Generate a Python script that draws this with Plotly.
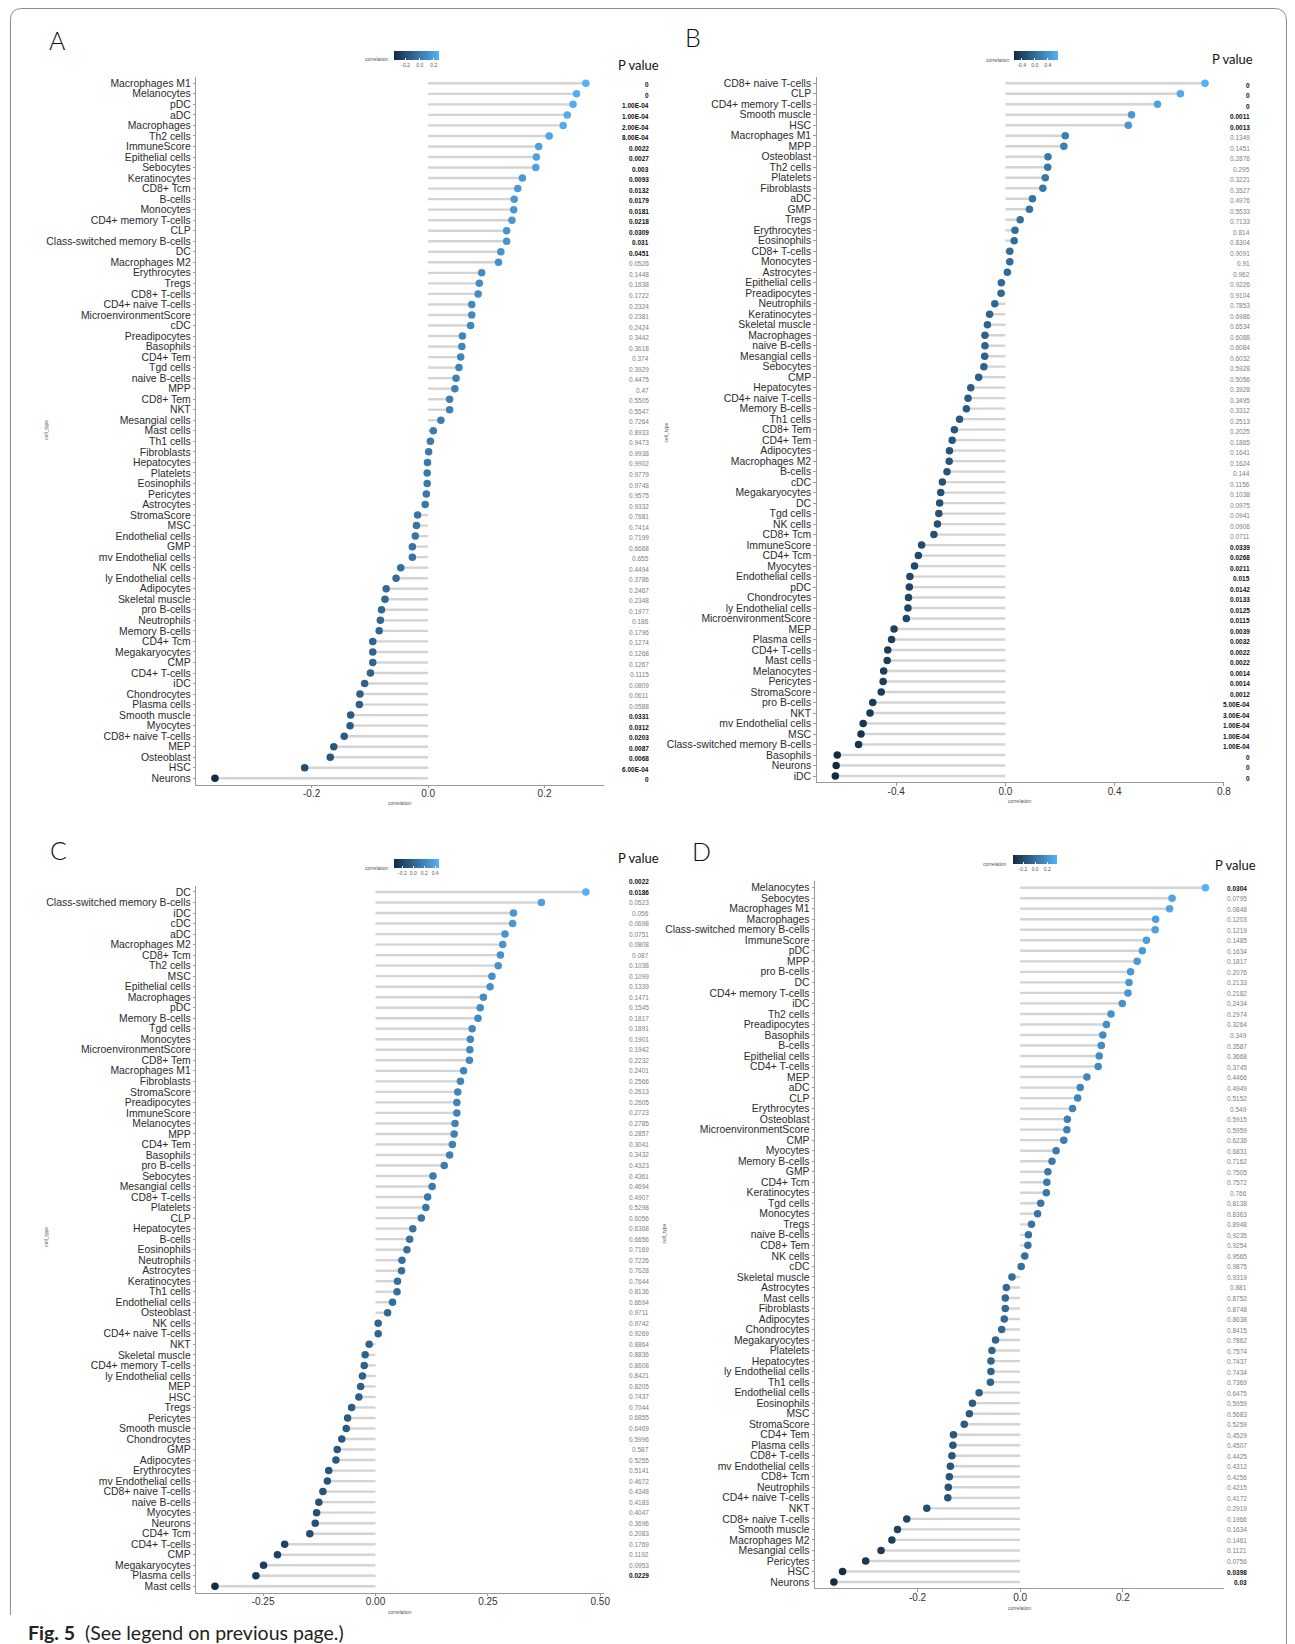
import plotly.graph_objects as go

W, H = 1295, 1644

# ---------------- Panel A ----------------
a_cells = ["Macrophages M1", "Melanocytes", "pDC", "aDC", "Macrophages", "Th2 cells", "ImmuneScore",
           "Epithelial cells", "Sebocytes", "Keratinocytes", "CD8+ Tcm", "B-cells", "Monocytes",
           "CD4+ memory T-cells", "CLP", "Class-switched memory B-cells", "DC", "Macrophages M2",
           "Erythrocytes", "Tregs", "CD8+ T-cells", "CD4+ naive T-cells", "MicroenvironmentScore",
           "cDC", "Preadipocytes", "Basophils", "CD4+ Tem", "Tgd cells", "naive B-cells", "MPP",
           "CD8+ Tem", "NKT", "Mesangial cells", "Mast cells", "Th1 cells", "Fibroblasts",
           "Hepatocytes", "Platelets", "Eosinophils", "Pericytes", "Astrocytes", "StromaScore", "MSC",
           "Endothelial cells", "GMP", "mv Endothelial cells", "NK cells", "ly Endothelial cells",
           "Adipocytes", "Skeletal muscle", "pro B-cells", "Neutrophils", "Memory B-cells", "CD4+ Tcm",
           "Megakaryocytes", "CMP", "CD4+ T-cells", "iDC", "Chondrocytes", "Plasma cells",
           "Smooth muscle", "Myocytes", "CD8+ naive T-cells", "MEP", "Osteoblast", "HSC", "Neurons"]
a_corr = [0.271, 0.255, 0.249, 0.239, 0.232, 0.208, 0.190, 0.186, 0.185, 0.162, 0.154, 0.148, 0.147,
          0.144, 0.135, 0.135, 0.125, 0.121, 0.092, 0.088, 0.086, 0.075, 0.075,
          0.073, 0.059, 0.058, 0.056, 0.053, 0.048, 0.046, 0.037, 0.037, 0.022, 0.009, 0.004, 0.001,
          -0.001, -0.0015, -0.0015, -0.003, -0.005, -0.018, -0.020, -0.022, -0.027, -0.027,
          -0.047, -0.055, -0.072, -0.074, -0.080, -0.082, -0.084, -0.095, -0.095, -0.095, -0.099,
          -0.109, -0.117, -0.118, -0.133, -0.134, -0.144, -0.162, -0.168, -0.212, -0.366]
a_pval = ["0", "0", "1.00E-04", "1.00E-04", "2.00E-04", "8.00E-04", "0.0022", "0.0027", "0.003",
          "0.0093", "0.0132", "0.0179", "0.0181", "0.0218", "0.0309", "0.031", "0.0451", "0.0526",
          "0.1448", "0.1638", "0.1722", "0.2324", "0.2381",
          "0.2424", "0.3442", "0.3618", "0.374", "0.3929", "0.4475", "0.47", "0.5505", "0.5547",
          "0.7264", "0.8933", "0.9473", "0.9938", "0.9902", "0.9779", "0.9748", "0.9575", "0.9332",
          "0.7681", "0.7414", "0.7199", "0.6668", "0.655",
          "0.4494", "0.3786", "0.2467", "0.2348", "0.1977", "0.186", "0.1796", "0.1274", "0.1268",
          "0.1267", "0.1115", "0.0809", "0.0611", "0.0588", "0.0331", "0.0312", "0.0203", "0.0087",
          "0.0068", "6.00E-04", "0"]
a_xticks = [-0.4, -0.2, 0.0, 0.2]
a_xticktext = ["-0.4", "-0.2", "0.0", "0.2"]
a_cbticks = [-0.2, 0.0, 0.2]

# ---------------- Panel B ----------------
b_cells = ["CD8+ naive T-cells", "CLP", "CD4+ memory T-cells", "Smooth muscle", "HSC", "Macrophages M1",
           "MPP", "Osteoblast", "Th2 cells", "Platelets", "Fibroblasts", "aDC", "GMP", "Tregs",
           "Erythrocytes", "Eosinophils", "CD8+ T-cells", "Monocytes", "Astrocytes", "Epithelial cells",
           "Preadipocytes", "Neutrophils", "Keratinocytes",
           "Skeletal muscle", "Macrophages", "naive B-cells", "Mesangial cells", "Sebocytes", "CMP",
           "Hepatocytes", "CD4+ naive T-cells", "Memory B-cells", "Th1 cells", "CD8+ Tem", "CD4+ Tem",
           "Adipocytes", "Macrophages M2", "B-cells", "cDC", "Megakaryocytes", "DC", "Tgd cells",
           "NK cells", "CD8+ Tcm", "ImmuneScore", "CD4+ Tcm",
           "Myocytes", "Endothelial cells", "pDC", "Chondrocytes", "ly Endothelial cells",
           "MicroenvironmentScore", "MEP", "Plasma cells", "CD4+ T-cells", "Mast cells", "Melanocytes",
           "Pericytes", "StromaScore", "pro B-cells", "NKT", "mv Endothelial cells", "MSC",
           "Class-switched memory B-cells", "Basophils", "Neurons", "iDC"]
b_corr = [0.731, 0.641, 0.557, 0.462, 0.450, 0.219, 0.214, 0.156, 0.155, 0.146, 0.137, 0.099, 0.088,
          0.054, 0.035, 0.032, 0.016, 0.016, 0.007, -0.015, -0.016, -0.039, -0.058,
          -0.066, -0.075, -0.075, -0.076, -0.079, -0.098, -0.127, -0.137, -0.143, -0.168, -0.187,
          -0.195, -0.205, -0.206, -0.214, -0.231, -0.237, -0.241, -0.244, -0.249, -0.262, -0.307,
          -0.319,
          -0.333, -0.350, -0.352, -0.355, -0.357, -0.363, -0.408, -0.417, -0.431, -0.433, -0.446,
          -0.448, -0.455, -0.486, -0.496, -0.521, -0.529, -0.538, -0.616, -0.620, -0.623]
b_pval = ["0", "0", "0", "0.0011", "0.0013", "0.1349", "0.1451", "0.2876", "0.295", "0.3221", "0.3527",
          "0.4976", "0.5533", "0.7133", "0.814", "0.8304", "0.9091", "0.91", "0.962", "0.9226",
          "0.9104", "0.7853", "0.6986",
          "0.6534", "0.6088", "0.6084", "0.6032", "0.5928", "0.5056", "0.3928", "0.3495", "0.3312",
          "0.2513", "0.2025", "0.1865", "0.1641", "0.1624", "0.144", "0.1156", "0.1038", "0.0975",
          "0.0941", "0.0906", "0.0711", "0.0339", "0.0268",
          "0.0211", "0.015", "0.0142", "0.0133", "0.0125", "0.0115", "0.0039", "0.0032", "0.0022",
          "0.0022", "0.0014", "0.0014", "0.0012", "5.00E-04", "3.00E-04", "1.00E-04", "1.00E-04",
          "1.00E-04", "0", "0", "0"]
b_xticks = [-0.4, 0.0, 0.4, 0.8]
b_xticktext = ["-0.4", "0.0", "0.4", "0.8"]
b_cbticks = [-0.4, 0.0, 0.4]

# ---------------- Panel C ----------------
c_cells = ["DC", "Class-switched memory B-cells", "iDC", "cDC", "aDC", "Macrophages M2", "CD8+ Tcm",
           "Th2 cells", "MSC", "Epithelial cells", "Macrophages", "pDC", "Memory B-cells", "Tgd cells",
           "Monocytes", "MicroenvironmentScore", "CD8+ Tem", "Macrophages M1", "Fibroblasts",
           "StromaScore", "Preadipocytes",
           "ImmuneScore", "Melanocytes", "MPP", "CD4+ Tem", "Basophils", "pro B-cells", "Sebocytes",
           "Mesangial cells", "CD8+ T-cells", "Platelets", "CLP", "Hepatocytes", "B-cells",
           "Eosinophils", "Neutrophils", "Astrocytes", "Keratinocytes", "Th1 cells",
           "Endothelial cells", "Osteoblast", "NK cells", "CD4+ naive T-cells", "NKT",
           "Skeletal muscle", "CD4+ memory T-cells", "ly Endothelial cells", "MEP", "HSC", "Tregs",
           "Pericytes", "Smooth muscle", "Chondrocytes", "GMP", "Adipocytes", "Erythrocytes",
           "mv Endothelial cells", "CD8+ naive T-cells", "naive B-cells", "Myocytes", "Neurons",
           "CD4+ Tcm", "CD4+ T-cells", "CMP", "Megakaryocytes", "Plasma cells", "Mast cells"]
c_corr = [0.468, 0.369, 0.307, 0.305, 0.288, 0.283, 0.278, 0.273, 0.259, 0.255, 0.240, 0.233, 0.228,
          0.215, 0.211, 0.210, 0.209, 0.196, 0.189, 0.183, 0.181,
          0.181, 0.177, 0.175, 0.171, 0.165, 0.153, 0.128, 0.126, 0.116, 0.112, 0.102, 0.083, 0.076,
          0.070, 0.059, 0.058, 0.049, 0.048, 0.038, 0.027, 0.006, 0.006, -0.014,
          -0.023, -0.025, -0.029, -0.033, -0.037, -0.053, -0.062, -0.065, -0.075, -0.085, -0.088,
          -0.104, -0.107, -0.117, -0.126, -0.131, -0.134, -0.146, -0.202, -0.218, -0.249, -0.266,
          -0.357]
c_pval = ["0.0022", "0.0186", "0.0523", "0.056", "0.0698", "0.0751", "0.0808", "0.087", "0.1038",
          "0.1099", "0.1339", "0.1471", "0.1545", "0.1817", "0.1891", "0.1901", "0.1942", "0.2232",
          "0.2401", "0.2566", "0.2613", "0.2605",
          "0.2723", "0.2785", "0.2857", "0.3041", "0.3432", "0.4323", "0.4361", "0.4694", "0.4907",
          "0.5298", "0.6056", "0.6368", "0.6656", "0.7169", "0.7226", "0.7628", "0.7644", "0.8136",
          "0.8694", "0.9711", "0.9742", "0.9269", "0.8864",
          "0.8836", "0.8608", "0.8421", "0.8205", "0.7437", "0.7044", "0.6855", "0.6469", "0.5996",
          "0.587", "0.5255", "0.5141", "0.4672", "0.4348", "0.4183", "0.4047", "0.3696", "0.2083",
          "0.1769", "0.1192", "0.0953", "0.0229"]
c_xticks = [-0.25, 0.0, 0.25, 0.5]
c_xticktext = ["-0.25", "0.00", "0.25", "0.50"]
c_cbticks = [-0.2, 0.0, 0.2, 0.4]

# ---------------- Panel D ----------------
d_cells = ["Melanocytes", "Sebocytes", "Macrophages M1", "Macrophages", "Class-switched memory B-cells",
           "ImmuneScore", "pDC", "MPP", "pro B-cells", "DC", "CD4+ memory T-cells", "iDC", "Th2 cells",
           "Preadipocytes", "Basophils", "B-cells", "Epithelial cells", "CD4+ T-cells", "MEP", "aDC",
           "CLP",
           "Erythrocytes", "Osteoblast", "MicroenvironmentScore", "CMP", "Myocytes", "Memory B-cells",
           "GMP", "CD4+ Tcm", "Keratinocytes", "Tgd cells", "Monocytes", "Tregs", "naive B-cells",
           "CD8+ Tem", "NK cells", "cDC", "Skeletal muscle", "Astrocytes", "Mast cells", "Fibroblasts",
           "Adipocytes", "Chondrocytes", "Megakaryocytes", "Platelets",
           "Hepatocytes", "ly Endothelial cells", "Th1 cells", "Endothelial cells", "Eosinophils",
           "MSC", "StromaScore", "CD4+ Tem", "Plasma cells", "CD8+ T-cells", "mv Endothelial cells",
           "CD8+ Tcm", "Neutrophils", "CD4+ naive T-cells", "NKT", "CD8+ naive T-cells",
           "Smooth muscle", "Macrophages M2", "Mesangial cells", "Pericytes", "HSC", "Neurons"]
d_corr = [0.361, 0.296, 0.291, 0.264, 0.263, 0.246, 0.238, 0.228, 0.215, 0.212, 0.210, 0.199, 0.177,
          0.168, 0.161, 0.158, 0.154, 0.152, 0.130, 0.117, 0.112,
          0.102, 0.092, 0.091, 0.085, 0.070, 0.062, 0.054, 0.052, 0.051, 0.040, 0.034, 0.022, 0.016,
          0.015, 0.009, 0.002, -0.016, -0.027, -0.029, -0.029, -0.031, -0.036, -0.048, -0.055,
          -0.057, -0.057, -0.058, -0.080, -0.093, -0.099, -0.109, -0.130, -0.131, -0.133, -0.136,
          -0.138, -0.140, -0.141, -0.182, -0.221, -0.239, -0.250, -0.271, -0.301, -0.346, -0.363]
d_pval = ["0.0304", "0.0795", "0.0848", "0.1203", "0.1219", "0.1485", "0.1634", "0.1817", "0.2076",
          "0.2133", "0.2182", "0.2434", "0.2974", "0.3264", "0.349", "0.3587", "0.3668", "0.3745",
          "0.4466", "0.4949", "0.5152",
          "0.549", "0.5915", "0.5959", "0.6236", "0.6831", "0.7162", "0.7505", "0.7572", "0.766",
          "0.8138", "0.8363", "0.8948", "0.9235", "0.9254", "0.9565", "0.9875", "0.9319", "0.881",
          "0.8752", "0.8748", "0.8638", "0.8415", "0.7862", "0.7574",
          "0.7437", "0.7434", "0.7369", "0.6475", "0.5959", "0.5683", "0.5259", "0.4529", "0.4507",
          "0.4425", "0.4312", "0.4256", "0.4215", "0.4172", "0.2919", "0.1966", "0.1634", "0.1461",
          "0.1121", "0.0756", "0.0398", "0.03"]
d_xticks = [-0.2, 0.0, 0.2]
d_xticktext = ["-0.2", "0.0", "0.2"]
d_cbticks = [-0.2, 0.0, 0.2]

# ---------------- styling ----------------
SANS = "Liberation Sans, Arial, sans-serif"
HEAD = "Lato, Open Sans, sans-serif"
GRADIENT = [[0.0, "#132B43"], [1.0, "#56B1F7"]]
AXIS_GREY = "#9a9a9a"


def px(x):
    return x / W


def py(y):
    return 1 - y / H


# pixel placement of every panel on the page
panels = [
    dict(letter="A", cells=a_cells, corr=a_corr, pval=a_pval, xt=a_xticks, xtt=a_xticktext,
         cbt=a_cbticks, left=197.5, right=607.7, first=83.3, last=778.3,
         letter_xy=(58, 40), cb=(396, 50.7, 44.5), cbt_title=(393, 59),
         phead=(642, 65), pright=654.7, poff=0.15, ctitle_y=803, celltype=(46, 430)),
    dict(letter="B", cells=b_cells, corr=b_corr, pval=b_pval, xt=b_xticks, xtt=b_xticktext,
         cbt=b_cbticks, left=821.3, right=1230.7, first=83.3, last=776.0,
         letter_xy=(697, 37), cb=(1020, 51, 43.5), cbt_title=(1017, 59.5),
         phead=(1239, 59), pright=1258.4, poff=0.2, ctitle_y=801, celltype=(670, 432)),
    dict(letter="C", cells=c_cells, corr=c_corr, pval=c_pval, xt=c_xticks, xtt=c_xticktext,
         cbt=c_cbticks, left=197.5, right=607.7, first=892.0, last=1586.3,
         letter_xy=(59, 850), cb=(396, 859.3, 44.5), cbt_title=(392.7, 868),
         phead=(642, 858), pright=654.7, poff=-1.0, ctitle_y=1611.5, celltype=(46, 1237)),
    dict(letter="D", cells=d_cells, corr=d_corr, pval=d_pval, xt=d_xticks, xtt=d_xticktext,
         cbt=d_cbticks, left=819.7, right=1230.7, first=887.7, last=1582.0,
         letter_xy=(705, 851), cb=(1018.6, 855, 44.2), cbt_title=(1014.5, 863.5),
         phead=(1242, 865), pright=1256, poff=0.05, ctitle_y=1607.5, celltype=(668, 1233)),
]

fig = go.Figure()
annotations = []
layout_axes = {}

for k, p in enumerate(panels, start=1):
    sfx = "" if k == 1 else str(k)
    xa, ya, ca = "x" + sfx, "y" + sfx, "coloraxis" + sfx
    n = len(p["cells"])
    rows = list(range(n))
    vals = p["corr"]
    lo, hi = min(vals), max(vals)
    span = hi - lo
    xlo, xhi = lo - 0.05 * span, hi + 0.05 * span
    xhi = max(xhi, max(p["xt"]) + 0.0008)

    spacing = (p["last"] - p["first"]) / (n - 1)
    top_px = p["first"] - 0.6 * spacing
    bot_px = p["last"] + 0.6 * spacing

    # lollipop stems from zero to each correlation
    sx, sy = [], []
    for r, v in zip(rows, vals):
        sx += [0, v, None]
        sy += [r, r, None]
    fig.add_trace(go.Scatter(x=sx, y=sy, mode="lines", xaxis=xa, yaxis=ya,
                             line=dict(color="#d4d4d4", width=2.4), hoverinfo="skip",
                             showlegend=False))
    # dots coloured by correlation
    fig.add_trace(go.Scatter(x=vals, y=rows, mode="markers", xaxis=xa, yaxis=ya,
                             marker=dict(size=7.5, color=vals, coloraxis=ca, line=dict(width=0)),
                             text=p["cells"], hovertemplate="%{text}: %{x}<extra></extra>",
                             showlegend=False))

    cbx, cby, cblen = p["cb"]
    layout_axes[ca] = dict(
        colorscale=GRADIENT, cmin=lo, cmax=hi,
        colorbar=dict(orientation="h", x=px(cbx), xanchor="left", y=py(cby), yanchor="top",
                      len=cblen, lenmode="pixels", thickness=9, thicknessmode="pixels",
                      outlinewidth=0, xpad=0, ypad=0, tickvals=p["cbt"],
                      ticktext=[f"{t:.1f}" for t in p["cbt"]],
                      tickfont=dict(family=SANS, size=5, color="#555555"),
                      ticks="inside", tickcolor="white", ticklen=2, tickwidth=0.6),
    )

    layout_axes["xaxis" + sfx] = dict(
        domain=[px(p["left"]), px(p["right"])], anchor=ya, range=[xlo, xhi],
        tickvals=p["xt"], ticktext=p["xtt"], showgrid=False, zeroline=False,
        showline=True, linecolor=AXIS_GREY, linewidth=1.3, ticks="outside", ticklen=2.5,
        tickcolor=AXIS_GREY, ticklabelstandoff=-3,
        tickfont=dict(family=SANS, size=10, color="#333333"),
    )
    layout_axes["yaxis" + sfx] = dict(
        domain=[py(bot_px), py(top_px)], anchor=xa, range=[n - 1 + 0.6, -0.6],
        tickvals=rows, ticktext=p["cells"], showgrid=False, zeroline=False,
        showline=True, linecolor=AXIS_GREY, linewidth=1.3, ticks="outside", ticklen=2.5,
        tickcolor=AXIS_GREY, tickfont=dict(family=SANS, size=10.4, color="#2b2b2b"),
    )

    # panel letter
    lx, ly = p["letter_xy"]
    annotations.append(dict(text=p["letter"], x=px(lx), y=py(ly), xref="paper", yref="paper",
                            xanchor="center", yanchor="middle", showarrow=False,
                            font=dict(family=HEAD, size=25, color="#111111", weight=300)))
    # colour legend title
    tx, ty = p["cbt_title"]
    annotations.append(dict(text="correlation", x=px(tx), y=py(ty), xref="paper", yref="paper",
                            xanchor="right", yanchor="middle", showarrow=False,
                            font=dict(family=SANS, size=5, color="#555555")))
    # P value header
    hx, hy = p["phead"]
    annotations.append(dict(text="P value", x=px(hx), y=py(hy), xref="paper", yref="paper",
                            xanchor="center", yanchor="middle", showarrow=False,
                            font=dict(family=HEAD, size=13, color="#111111")))
    # axis titles
    annotations.append(dict(text="correlation", x=px((p["left"] + p["right"]) / 2),
                            y=py(p["ctitle_y"]), xref="paper", yref="paper",
                            xanchor="center", yanchor="middle", showarrow=False,
                            font=dict(family=SANS, size=5, color="#555555")))
    cx, cy = p["celltype"]
    annotations.append(dict(text="cell_type", x=px(cx), y=py(cy), xref="paper", yref="paper",
                            xanchor="center", yanchor="middle", showarrow=False, textangle=-90,
                            font=dict(family=SANS, size=5, color="#555555")))
    # P value column, bold when significant
    for r, s in zip(rows, p["pval"]):
        sig = float(s) < 0.05
        ypix = p["first"] + (r + p["poff"]) * spacing
        annotations.append(dict(text=f"<b>{s}</b>" if sig else s, x=px(p["pright"]),
                                y=py(ypix), xref="paper", yref="paper",
                                xanchor="right", yanchor="middle", showarrow=False,
                                font=dict(family=SANS, size=6.5,
                                          color="#111111" if sig else "#808080")))

# figure caption
annotations.append(dict(text="<b>Fig. 5</b>  (See legend on previous page.)", x=px(26), y=py(1632),
                        xref="paper", yref="paper", xanchor="left", yanchor="middle",
                        showarrow=False, font=dict(family=HEAD, size=19.5, color="#222222")))


def pt(x, y):
    return f"{px(x):.5f},{py(y):.5f}"


frame = (f"M {pt(10.5, 1615)} L {pt(10.5, 20)} Q {pt(10.5, 8.5)} {pt(22, 8.5)} "
         f"L {pt(1281, 8.5)} Q {pt(1293.5, 8.5)} {pt(1293.5, 21)} L {pt(1293.5, 1644)}")

fig.update_layout(
    width=W, height=H, margin=dict(l=0, r=0, t=0, b=0),
    paper_bgcolor="white", plot_bgcolor="white",
    annotations=annotations,
    shapes=[dict(type="path", path=frame, xref="paper", yref="paper",
                 line=dict(color="#8c8c8c", width=1))],
    **layout_axes,
)

fig.write_html("out.html")
